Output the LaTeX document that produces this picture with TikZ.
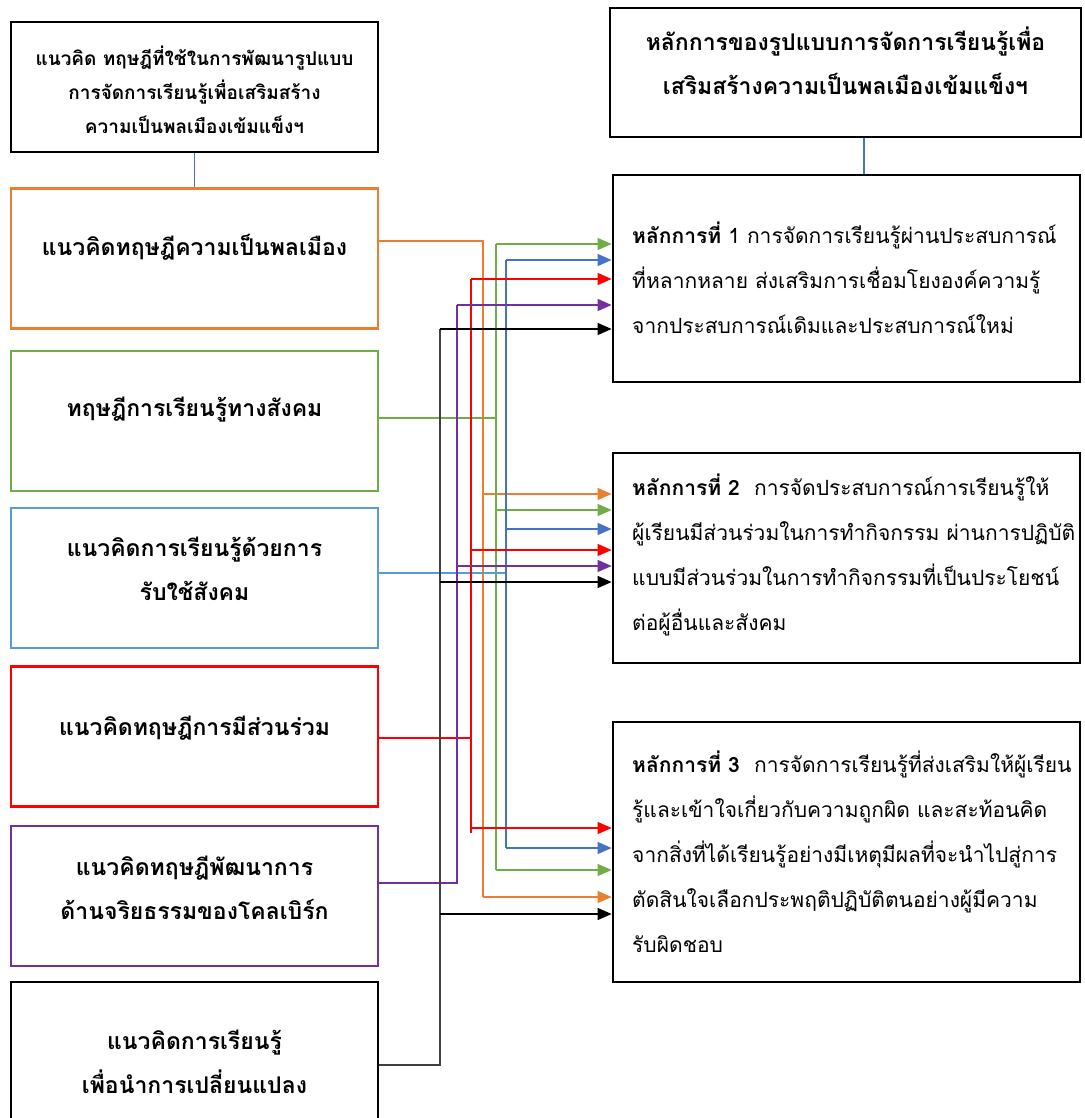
\documentclass[tikz,border=0pt]{standalone}
\usepackage{fontspec}
\newfontfamily\thai[Script=Thai]{Loma}
\usetikzlibrary{arrows.meta}

\definecolor{corange}{HTML}{ED7D31}
\definecolor{cgreen}{HTML}{70AD47}
\definecolor{cbluebox}{HTML}{5B9BD5}
\definecolor{cblue}{HTML}{4472C4}
\definecolor{cred}{HTML}{FF0000}
\definecolor{cpurple}{HTML}{7030A0}

\tikzset{
  lbox/.style={draw, line width=2.8pt, minimum width=367pt, minimum height=140pt},
  rbox/.style={draw, line width=2.8pt, minimum width=467pt},
  btext/.style={font=\thai\bfseries\fontsize{23}{44}\selectfont, align=center},
  ttext/.style={font=\thai\bfseries\fontsize{19}{34}\selectfont, align=center},
  rtext/.style={font=\thai\fontsize{21}{45}\selectfont, align=left, anchor=west, inner sep=0pt},
  wire/.style={line width=1.3pt},
  arr/.style={wire, -{Triangle[length=14pt,width=12pt]}},
}

\begin{document}
\begin{tikzpicture}[x=1pt,y=-1pt]
  \clip (0,0) rectangle (1084,1118);
  \fill[white] (0,0) rectangle (1084,1118);

  % left column
  \node[lbox, minimum height=130pt] (theory) at (194.5,87) {};
  \node[lbox, draw=corange] (citizen) at (194.5,258.5) {};
  \node[lbox, draw=cgreen] (social) at (194.5,421) {};
  \node[lbox, draw=cbluebox] (service) at (194.5,578) {};
  \node[lbox, draw=cred] (particip) at (194.5,736.5) {};
  \node[lbox, draw=cpurple] (kohlberg) at (194.5,896) {};
  \node[lbox] (change) at (194.5,1052) {};

  \node[ttext] (theorytxt) at (194.5,90) {แนวคิด ทฤษฎีที่ใช้ในการพัฒนารูปแบบ\\การจัดการเรียนรู้เพื่อเสริมสร้าง\\ความเป็นพลเมืองเข้มแข็งฯ};
  \node[btext] (citizentxt) at (194.5,247) {แนวคิดทฤษฎีความเป็นพลเมือง};
  \node[btext] (socialtxt) at (194.5,410) {ทฤษฎีการเรียนรู้ทางสังคม};
  \node[btext] (servicetxt) at (194.5,568.5) {แนวคิดการเรียนรู้ด้วยการ\\รับใช้สังคม};
  \node[btext] (participtxt) at (194.5,728) {แนวคิดทฤษฎีการมีส่วนร่วม};
  \node[btext] (kohlbergtxt) at (194.5,887.5) {แนวคิดทฤษฎีพัฒนาการ\\ด้านจริยธรรมของโคลเบิร์ก};
  \node[btext] (changetxt) at (194.5,1061.5) {แนวคิดการเรียนรู้\\เพื่อนำการเปลี่ยนแปลง};

  % right column
  \node[rbox, minimum width=471pt, minimum height=129pt] (principle) at (845.5,72.5) {};
  \node[rbox, minimum height=207pt] (p1) at (846.5,278.5) {};
  \node[rbox, minimum height=210pt] (p2) at (846.5,558) {};
  \node[rbox, minimum height=260pt] (p3) at (846.5,852) {};

  \node[btext] (principletxt) at (845.5,61) {หลักการของรูปแบบการจัดการเรียนรู้เพื่อ\\เสริมสร้างความเป็นพลเมืองเข้มแข็งฯ};
  \node[rtext] (p1txt) at (632,277.5) {\textbf{หลักการที่} 1 การจัดการเรียนรู้ผ่านประสบการณ์\\ที่หลากหลาย ส่งเสริมการเชื่อมโยงองค์ความรู้\\จากประสบการณ์เดิมและประสบการณ์ใหม่};
  \node[rtext] (p2txt) at (632,554.5) {\textbf{หลักการที่ 2}\ \ การจัดประสบการณ์การเรียนรู้ให้\\ผู้เรียนมีส่วนร่วมในการทำกิจกรรม ผ่านการปฏิบัติ\\แบบมีส่วนร่วมในการทำกิจกรรมที่เป็นประโยชน์\\ต่อผู้อื่นและสังคม};
  \node[rtext] (p3txt) at (632,851.5) {\textbf{หลักการที่ 3}\ \ การจัดการเรียนรู้ที่ส่งเสริมให้ผู้เรียน\\รู้และเข้าใจเกี่ยวกับความถูกผิด และสะท้อนคิด\\จากสิ่งที่ได้เรียนรู้อย่างมีเหตุมีผลที่จะนำไปสู่การ\\ตัดสินใจเลือกประพฤติปฏิบัติตนอย่างผู้มีความ\\รับผิดชอบ};

  % title links
  \draw[wire, cblue] (theory.south) -- (citizen.north);
  \draw[wire, cblue] (principle.south -| 864,0) -- (p1.north -| 864,0);

  % buses from the left boxes
  \draw[wire, corange] (citizen.east |- 0,241) -| (483,897);
  \foreach \y in {494,897}
    \draw[arr, corange] (483,\y) -- (p1.west |- 0,\y);

  \draw[wire, cgreen] (social.east |- 0,418) -- (496,418) (496,244) -- (496,870);
  \foreach \y in {244,510,870}
    \draw[arr, cgreen] (496,\y) -- (p1.west |- 0,\y);

  \draw[wire, cbluebox] (service.east |- 0,573) -- (506,573);
  \draw[wire, cblue] (506,260) -- (506,848);
  \foreach \y in {260,529,848}
    \draw[arr, cblue] (506,\y) -- (p1.west |- 0,\y);

  \draw[wire, cred] (particip.east |- 0,738) -- (471,738) (471,279) -- (471,833);
  \foreach \y in {279,550,828}
    \draw[arr, cred] (471,\y) -- (p1.west |- 0,\y);

  \draw[wire, cpurple] (kohlberg.east |- 0,883) -| (457,305);
  \foreach \y in {305,566}
    \draw[arr, cpurple] (457,\y) -- (p1.west |- 0,\y);

  \draw[wire, black!75] (change.east |- 0,1065) -| (440,329);
  \foreach \y in {329,582,914}
    \draw[arr, black] (440,\y) -- (p1.west |- 0,\y);
\end{tikzpicture}
\end{document}
